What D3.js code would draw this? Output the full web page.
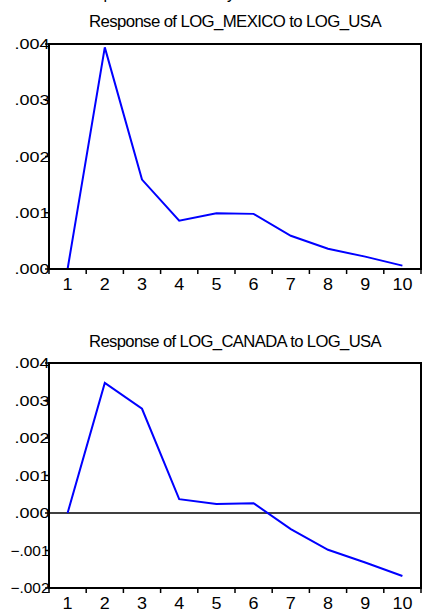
<!DOCTYPE html>
<html>
<head>
<meta charset="utf-8">
<script src="https://cdn.jsdelivr.net/npm/d3@7"></script>
<style>
  body { margin: 0; background: #fff; }
  svg { display: block; font-family: "Liberation Sans", Arial, sans-serif; }
</style>
</head>
<body>
<svg id="chart" width="422" height="610"></svg>
<script>
// periods after the shock
var periods = [1, 2, 3, 4, 5, 6, 7, 8, 9, 10];

var mexicoTitle = "Response of LOG_MEXICO to LOG_USA";
var mexicoValues = [0, 0.00394, 0.00159, 0.00086, 0.00099, 0.00098, 0.00059, 0.00036, 0.00022, 0.00006];
var mexicoTicks = [0, 0.001, 0.002, 0.003, 0.004];

var canadaTitle = "Response of LOG_CANADA to LOG_USA";
var canadaValues = [0, 0.00347, 0.00278, 0.00037, 0.00024, 0.00026, -0.00043, -0.00098, -0.00132, -0.00168];
var canadaTicks = [-0.002, -0.001, 0, 0.001, 0.002, 0.003, 0.004];

var svg = d3.select("#chart");

// header line that is cut off at the top of the picture
svg.append("text")
    .attr("x", 75).attr("y", -1)
    .attr("font-size", 16)
    .text("Response to Cholesky One S.D. Innovations \u00b1 2 S.E.");

var fmt = function(v) {
  return d3.format(".3f")(v).replace("0.", ".");
};

function drawPanel(title, values, ticks, top, bottom, titleY) {
  var left = 49, right = 421;

  var x = d3.scaleBand().domain(periods).range([left, right]).padding(0);
  var y = d3.scaleLinear().domain(d3.extent(ticks)).range([bottom, top]);

  var g = svg.append("g");

  g.append("text")
      .attr("x", (left + right) / 2)
      .attr("y", titleY)
      .attr("text-anchor", "middle")
      .attr("font-size", 16)
      .attr("letter-spacing", -0.6)
      .attr("textLength", 292)
      .attr("lengthAdjust", "spacingAndGlyphs")
      .text(title);

  // zero line
  if (y.domain()[0] < 0) {
    g.append("line")
        .attr("x1", left).attr("x2", right)
        .attr("y1", y(0)).attr("y2", y(0))
        .attr("stroke", "#000").attr("stroke-width", 1.5);
  }

  // response line
  var line = d3.line()
      .x(function(d, i) { return x(periods[i]) + x.bandwidth() / 2; })
      .y(function(d) { return y(d); });

  g.append("path")
      .datum(values)
      .attr("d", line)
      .attr("fill", "none")
      .attr("stroke", "#0000ff")
      .attr("stroke-width", 2);

  // frame
  g.append("rect")
      .attr("x", left).attr("y", top)
      .attr("width", right - left).attr("height", bottom - top)
      .attr("fill", "none")
      .attr("stroke", "#000").attr("stroke-width", 2);

  // x ticks at band edges
  var edges = periods.map(function(p) { return x(p); }).concat([right]);
  g.selectAll(".xt").data(edges).enter().append("line")
      .attr("x1", function(d) { return d; }).attr("x2", function(d) { return d; })
      .attr("y1", bottom).attr("y2", bottom + 5)
      .attr("stroke", "#000").attr("stroke-width", 1.5);

  g.selectAll(".xl").data(periods).enter().append("text")
      .attr("x", function(d) { return x(d) + x.bandwidth() / 2; })
      .attr("y", bottom + 20.5)
      .attr("text-anchor", "middle")
      .attr("font-size", 16.5)
      .attr("textLength", function(d) { return String(d).length * 10; })
      .attr("lengthAdjust", "spacingAndGlyphs")
      .text(function(d) { return d; });

  // y ticks and labels
  g.selectAll(".yt").data(ticks).enter().append("line")
      .attr("x1", left - 4).attr("x2", left)
      .attr("y1", function(d) { return y(d); }).attr("y2", function(d) { return y(d); })
      .attr("stroke", "#000").attr("stroke-width", 1.5);

  g.selectAll(".yl").data(ticks).enter().append("text")
      .attr("x", left + 0.5)
      .attr("y", function(d) { return y(d); })
      .attr("dy", "0.36em")
      .attr("text-anchor", "end")
      .attr("font-size", 14.5)
      .attr("textLength", function(d) { return d < 0 ? 39 : 35; })
      .attr("lengthAdjust", "spacingAndGlyphs")
      .text(fmt);
}

drawPanel(mexicoTitle, mexicoValues, mexicoTicks, 44, 269, 27);
drawPanel(canadaTitle, canadaValues, canadaTicks, 363, 588, 347);
</script>
</body>
</html>
